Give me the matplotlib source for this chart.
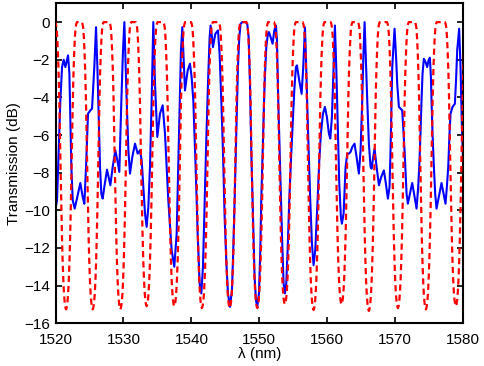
import numpy as np
import matplotlib
matplotlib.use('Agg')
import matplotlib.pyplot as plt

# Red dashed curve: dip positions (nm) and depths (dB)
red_dip_nm = [1521.55, 1525.47, 1529.54, 1533.41, 1537.48, 1541.55, 1545.64,
              1549.69, 1553.76, 1557.98, 1562.10, 1566.12, 1570.39, 1574.51,
              1578.92]
red_dip_db = [-15.27, -15.27, -15.27, -15.1, -15.1, -15.2, -15.2,
              -15.2, -15.0, -15.3, -15.0, -15.35, -15.2, -15.27, -15.1]
# one dip, as offset from its centre (nm) and level (dB)
red_shape_off = [-1.8, -1.6, -1.5, -1.4, -1.3, -1.2, -1.1, -1.0, -0.9, -0.8,
                 -0.7, -0.6, -0.5, -0.4, -0.3, -0.2, -0.1, 0.0,
                 0.1, 0.2, 0.3, 0.4, 0.5, 0.6, 0.7, 0.8, 0.9, 1.0, 1.1, 1.2,
                 1.3, 1.4, 1.5, 1.6, 1.8]
red_shape_db = [0.0, 0.0, -0.1, -0.3, -0.8, -1.6, -2.6, -4.0, -5.8, -7.8,
                -9.7, -11.3, -12.6, -13.6, -14.3, -14.75, -15.0, -15.1,
                -15.0, -14.75, -14.3, -13.6, -12.6, -11.3, -9.7, -7.8, -5.8,
                -4.0, -2.6, -1.6, -0.8, -0.3, -0.1, 0.0, 0.0]

# Blue solid curve read point by point
blue_nm = [1520.0, 1520.22, 1520.47, 1520.71, 1520.96, 1521.2, 1521.45, 1521.84,
           1522.04, 1522.18, 1522.33, 1522.53, 1522.82, 1523.2, 1523.65, 1524.0,
           1524.24, 1524.49, 1524.78, 1525.13, 1525.37, 1525.71, 1525.96, 1526.16,
           1526.35, 1526.55, 1526.74, 1526.94, 1527.18, 1527.58, 1528.07, 1528.41,
           1528.8, 1529.1, 1529.39, 1529.69, 1529.93, 1530.13, 1530.47, 1530.72,
           1530.96, 1531.3, 1531.7, 1532.09, 1532.43, 1532.68, 1532.92, 1533.17,
           1533.41, 1533.66, 1533.9, 1534.15, 1534.39, 1534.64, 1534.98, 1535.37,
           1535.77, 1536.11, 1536.6, 1537.09, 1537.48, 1537.83, 1538.17, 1538.46,
           1538.66, 1539.05, 1539.45, 1539.79, 1540.03, 1540.28, 1540.62, 1540.92,
           1541.21, 1541.46, 1541.7, 1541.95, 1542.19, 1542.44, 1542.68, 1542.83,
           1543.03, 1543.17, 1543.52, 1543.91, 1544.15, 1544.4, 1544.64, 1544.89,
           1545.13, 1545.38, 1545.67, 1545.97, 1546.16, 1546.36, 1546.6, 1546.85,
           1547.05, 1547.24, 1547.49, 1547.98, 1548.22, 1548.42, 1548.62, 1548.81,
           1549.06, 1549.3, 1549.5, 1549.69, 1549.94, 1550.14, 1550.28, 1550.53,
           1550.77, 1551.02, 1551.26, 1551.41, 1551.66, 1551.95, 1552.2, 1552.44,
           1552.59, 1552.78, 1552.98, 1553.18, 1553.37, 1553.57, 1553.76, 1553.96,
           1554.16, 1554.4, 1554.65, 1554.89, 1555.14, 1555.38, 1555.53, 1555.87,
           1556.22, 1556.46, 1556.71, 1556.9, 1557.1, 1557.3, 1557.49, 1557.74,
           1557.98, 1558.23, 1558.57, 1558.82, 1559.06, 1559.36, 1559.65, 1559.94,
           1560.24, 1560.44, 1560.68, 1560.93, 1561.12, 1561.32, 1561.51, 1561.76,
           1562.0, 1562.15, 1562.4, 1562.69, 1562.94, 1563.18, 1563.43, 1563.67,
           1564.01, 1564.31, 1564.65, 1564.9, 1565.14, 1565.29, 1565.49, 1565.68,
           1565.88, 1566.12, 1566.37, 1566.52, 1566.76, 1566.96, 1567.2, 1567.6,
           1567.94, 1568.33, 1568.62, 1568.92, 1569.16, 1569.31, 1569.56, 1569.9,
           1570.15, 1570.29, 1570.54, 1571.03, 1571.37, 1571.67, 1571.86, 1572.16,
           1572.5, 1572.84, 1573.14, 1573.38, 1573.53, 1573.72, 1573.87, 1574.02,
           1574.21, 1574.46, 1574.7, 1574.9, 1575.1, 1575.25, 1575.34, 1575.49,
           1575.69, 1575.88, 1576.08, 1576.42, 1576.81, 1577.11, 1577.4, 1577.6,
           1577.8, 1577.99, 1578.14, 1578.43, 1578.78, 1578.97, 1579.12, 1579.41,
           1579.61, 1579.81, 1580.0]
blue_db = [-9.9, -9.47, -6.81, -4.16, -2.39, -2.0, -2.39, -1.77,
           -2.74, -5.04, -7.7, -9.47, -9.91, -9.3, -8.55, -9.3,
           -9.65, -7.7, -4.87, -4.69, -4.6, -2.39, -0.27, -2.39,
           -5.04, -7.7, -9.12, -9.38, -8.76, -7.84, -8.67, -7.7,
           -6.81, -7.35, -7.96, -4.16, -1.5, 0.0, -4.16, -6.81,
           -8.05, -7.17, -6.46, -6.99, -6.81, -7.35, -8.76, -10.18,
           -10.88, -9.82, -7.7, -4.16, 0.0, -3.27, -6.1, -4.87,
           -4.42, -5.93, -9.47, -12.12, -13.0, -11.24, -5.93, -1.5,
           -0.27, -3.63, -2.57, -2.21, -2.92, -4.16, -7.7, -11.24,
           -13.9, -14.42, -13.0, -9.47, -6.28, -3.27, -0.8, -0.18,
           -0.8, -1.33, -0.62, -0.44, -1.68, -4.16, -6.81, -10.35,
           -12.65, -14.42, -15.13, -14.25, -12.12, -9.47, -5.93, -2.39,
           -0.8, -0.09, 0.0, 0.0, -0.09, -0.8, -3.27, -6.81,
           -10.35, -13.54, -14.78, -15.13, -14.42, -12.12, -9.47, -6.28,
           -3.27, -1.33, -0.62, -0.53, -0.8, -1.15, -0.44, -0.18,
           -0.97, -4.16, -6.81, -9.47, -11.77, -13.89, -14.42, -13.89,
           -12.12, -9.47, -7.35, -5.58, -3.63, -2.39, -2.3, -3.1,
           -3.81, -2.39, -0.27, -2.39, -5.04, -7.35, -9.47, -11.77,
           -12.92, -12.12, -9.47, -7.35, -5.93, -4.87, -4.51, -5.04,
           -5.93, -6.19, -5.04, -2.39, -0.18, -2.39, -5.04, -8.58,
           -10.35, -10.71, -10.18, -7.7, -6.99, -6.99, -6.9, -6.64,
           -6.46, -7.17, -8.05, -6.81, -4.16, -2.04, 0.0, -2.04,
           -4.16, -6.46, -7.7, -7.79, -7.17, -6.73, -7.52, -8.67,
           -8.23, -7.88, -8.58, -9.38, -8.76, -6.81, -2.39, -0.35,
           -2.04, -3.27, -4.51, -4.69, -6.81, -9.12, -9.65, -9.12,
           -8.55, -9.29, -9.91, -8.76, -7.7, -5.93, -4.16, -2.74,
           -1.95, -2.12, -2.39, -2.04, -1.89, -2.92, -4.16, -5.93,
           -7.7, -9.12, -9.91, -9.29, -8.55, -9.12, -9.65, -8.76,
           -7.7, -5.93, -4.87, -4.51, -4.34, -2.92, -1.5, -0.35,
           -2.39, -5.58, -7.5]

# build the red trace from the dip list
red_nm = []
red_db = []
for c, d in zip(red_dip_nm, red_dip_db):
    for o, v in zip(red_shape_off, red_shape_db):
        red_nm.append(c + o)
        red_db.append(v * d / -15.1)

plt.rcParams['font.family'] = ['Liberation Sans', 'DejaVu Sans']
plt.rcParams['font.size'] = 11

fig = plt.figure(figsize=(4.85, 3.66), dpi=100)
ax = fig.add_axes([0.1145, 0.117, 0.8405, 0.874])

ax.plot(blue_nm, blue_db, color='blue', lw=1.5, zorder=2)
ax.plot(red_nm, red_db, color='red', lw=1.6, ls=(0, (2.8, 1.8)), zorder=3)

ax.set_xlim(1520, 1580)
ax.set_ylim(-16, 1)
ax.set_xticks(np.arange(1520, 1581, 10))
ax.set_yticks(np.arange(-16, 1, 2))
ax.tick_params(direction='in', top=True, right=True, length=4, width=1.2)
ax.tick_params(axis='x', pad=7)
ax.tick_params(axis='y', pad=4)
for s in ax.spines.values():
    s.set_linewidth(1.5)

ax.set_xlabel('λ (nm)', labelpad=0)
ax.set_ylabel('Transmission (dB)', labelpad=2)

fig.savefig('out.png', dpi=100)
